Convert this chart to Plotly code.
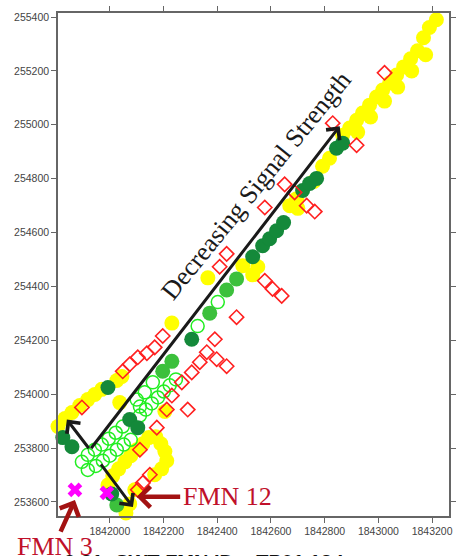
import plotly.graph_objects as go

# ---- data (map coordinates: easting / northing) ----
yellow_x = [1841807, 1841833, 1841859, 1841888, 1841918, 1841944, 1841970, 1842026, 1842045, 1842037,
            1842231, 1842365, 1842495, 1842532, 1842551, 1842670, 1842696, 1842792, 1842818, 1842867,
            1842893, 1842919, 1842941, 1842967, 1842993, 1843016, 1843042, 1843068, 1843094, 1843120,
            1843146, 1843168, 1843190, 1843216, 1843254,
            1842923, 1842971, 1843023, 1843072, 1843124, 1843176, 1842700, 1842760,
            1841993, 1842011, 1842033, 1842056, 1842078, 1842100, 1842123, 1842145, 1842171, 1842190,
            1842205, 1842212, 1842193, 1842093, 1842074, 1842060, 1842205, 1842167]
yellow_y = [253880, 253910, 253932, 253958, 253980, 253999, 254018, 254051, 254066, 253969,
            254264, 254432, 254477, 254443, 254473, 254700, 254726, 254846, 254876, 254961,
            254988, 255017, 255044, 255073, 255103, 255129, 255155, 255185, 255215, 255245,
            255275, 255323, 255361, 255390, 255431,
            254973, 255029, 255088, 255140, 255200, 255260, 254690, 254790,
            253663, 253697, 253723, 253749, 253772, 253794, 253816, 253839, 253842, 253816,
            253787, 253753, 253723, 253645, 253593, 253559, 253936, 253701]

dkgreen_x = [1841825, 1841859, 1841993, 1842074, 1842104, 1842007, 1842305, 1842532, 1842569, 1842595,
             1842621, 1842647, 1842718, 1842744, 1842770, 1842844, 1842867]
dkgreen_y = [253839, 253805, 254025, 253906, 253876, 253630, 254204, 254510, 254551, 254577,
             254607, 254637, 254756, 254782, 254801, 254913, 254932]

midgreen_x = [1842472, 1842435, 1842372, 1842231, 1842197, 1842026]
midgreen_y = [254428, 254387, 254301, 254122, 254085, 253589]

open_x = [1841918, 1841944, 1841970, 1841996, 1842022, 1842048, 1842134, 1842156, 1842179, 1842201,
          1842223, 1842246, 1841896, 1841918, 1841948, 1841974, 1842000, 1842026, 1842052, 1842078,
          1842112, 1842100, 1842130, 1842160, 1842112, 1842327, 1842402]
open_y = [253775, 253794, 253813, 253835, 253857, 253880, 253943, 253966, 253988, 254010,
          254033, 254055, 253749, 253719, 253734, 253753, 253772, 253794, 253813, 253831,
          253921, 253980, 254007, 254044, 253954, 254253, 254342]

red_x = [1843265, 1843023, 1842830, 1842919, 1842651, 1842688, 1842577, 1842733, 1842763, 1842435,
         1842409, 1842577, 1842606, 1842640, 1842472, 1842391, 1842361, 1842398, 1842435, 1842335,
         1842305, 1842268, 1842231, 1842290, 1842197, 1842167, 1842138, 1842104, 1842074, 1842048,
         1842212, 1842175, 1842149, 1842123, 1842104, 1842112, 1841896]
red_y = [255387, 255193, 255006, 254924, 254779, 254749, 254693, 254700, 254678, 254521,
         254473, 254421, 254391, 254365, 254286, 254204, 254156, 254130, 254104, 254119,
         254081, 254044, 253995, 253943, 254216, 254174, 254152, 254137, 254111, 254085,
         253943, 253876, 253701, 253671, 253645, 253794, 253951]

fmn_x = [1841870, 1841989]
fmn_y = [253645, 253634]

x_ticks = [1842000, 1842200, 1842400, 1842600, 1842800, 1843000, 1843200]
y_ticks = [253600, 253800, 254000, 254200, 254400, 254600, 254800, 255000, 255200, 255400]

fig = go.Figure()
fig.add_trace(go.Scatter(x=yellow_x, y=yellow_y, mode="markers", cliponaxis=False,
                         marker=dict(symbol="circle", size=15, color="#FFFF00", line=dict(width=0))))
fig.add_trace(go.Scatter(x=open_x, y=open_y, mode="markers", cliponaxis=False,
                         marker=dict(symbol="circle-open", size=13, color="#22EE22", line=dict(width=1.5))))
fig.add_trace(go.Scatter(x=midgreen_x, y=midgreen_y, mode="markers", cliponaxis=False,
                         marker=dict(symbol="circle", size=15, color="#3CC03C", line=dict(width=0))))
fig.add_trace(go.Scatter(x=dkgreen_x, y=dkgreen_y, mode="markers", cliponaxis=False,
                         marker=dict(symbol="circle", size=15, color="#14893A", line=dict(width=0))))
fig.add_trace(go.Scatter(x=red_x, y=red_y, mode="markers", cliponaxis=False,
                         marker=dict(symbol="diamond-open", size=11, color="#FF2020", line=dict(width=1.6))))
fig.add_trace(go.Scatter(x=fmn_x, y=fmn_y, mode="markers", cliponaxis=False,
                         marker=dict(symbol="x", size=13, color="#FF00FF", line=dict(width=0))))

black = "#1a1a1a"
arrows = [
    (1842856, 254995, 1841926, 253794),
    (1841840, 253906, 1841926, 253794),
    (1842086, 253581, 1841963, 253745),
]
for hx, hy, tx, ty in arrows:
    fig.add_annotation(x=hx, y=hy, ax=tx, ay=ty, xref="x", yref="y", axref="x", ayref="y",
                       text="", showarrow=True, arrowhead=4, arrowsize=1.1, arrowwidth=3,
                       arrowcolor=black, standoff=0, startstandoff=0)

dred = "#A31212"
fig.add_annotation(x=1841870, y=253607, ax=-15, ay=33, xref="x", yref="y", text="",
                   showarrow=True, arrowhead=4, arrowsize=0.9, arrowwidth=4.5, arrowcolor=dred,
                   standoff=0)
fig.add_annotation(x=1842100, y=253619, ax=45, ay=0, xref="x", yref="y", text="",
                   showarrow=True, arrowhead=4, arrowsize=0.9, arrowwidth=4.5, arrowcolor=dred,
                   standoff=0)

fig.add_annotation(x=1842266, y=253619, xref="x", yref="y", text="FMN 12", showarrow=False,
                   xanchor="left", yanchor="middle",
                   font=dict(family="Liberation Serif", size=26, color="#C0102A"))
fig.add_annotation(x=-0.11, y=-0.028, xref="paper", yref="paper", text="FMN 3", showarrow=False,
                   xanchor="left", yanchor="top",
                   font=dict(family="Liberation Serif", size=26, color="#C0102A"))
fig.add_annotation(x=0.01, y=-0.066, xref="paper", yref="paper",
                   text="<b>3.21: SWT FMN ID – TP01 12 L</b>", showarrow=False,
                   xanchor="left", yanchor="top",
                   font=dict(family="Liberation Sans", size=20, color="#111111"))
fig.add_annotation(x=1842545, y=254774, xref="x", yref="y", text="Decreasing Signal Strength",
                   showarrow=False, textangle=-51,
                   font=dict(family="Liberation Serif", size=26, color="#1a1a1a"))

axis_common = dict(showgrid=False, zeroline=False, showline=True, linecolor="#666666", linewidth=1.5,
                   mirror="ticks", ticks="outside", ticklen=5, tickwidth=1, tickcolor="#666666",
                   tickformat="d", tickfont=dict(family="Liberation Sans", size=10.5, color="#444444"))
fig.update_xaxes(range=[1841807, 1843263], tickvals=x_ticks, **axis_common)
fig.update_yaxes(range=[253548, 255415], tickvals=y_ticks, **axis_common)

fig.update_layout(width=457, height=556, margin=dict(l=58, r=8, t=13, b=40, autoexpand=False),
                  plot_bgcolor="white", paper_bgcolor="white", showlegend=False)

fig.write_html("out.html", config={"displayModeBar": False},
               post_script="document.body.style.margin='0';document.body.style.overflow='hidden';")
